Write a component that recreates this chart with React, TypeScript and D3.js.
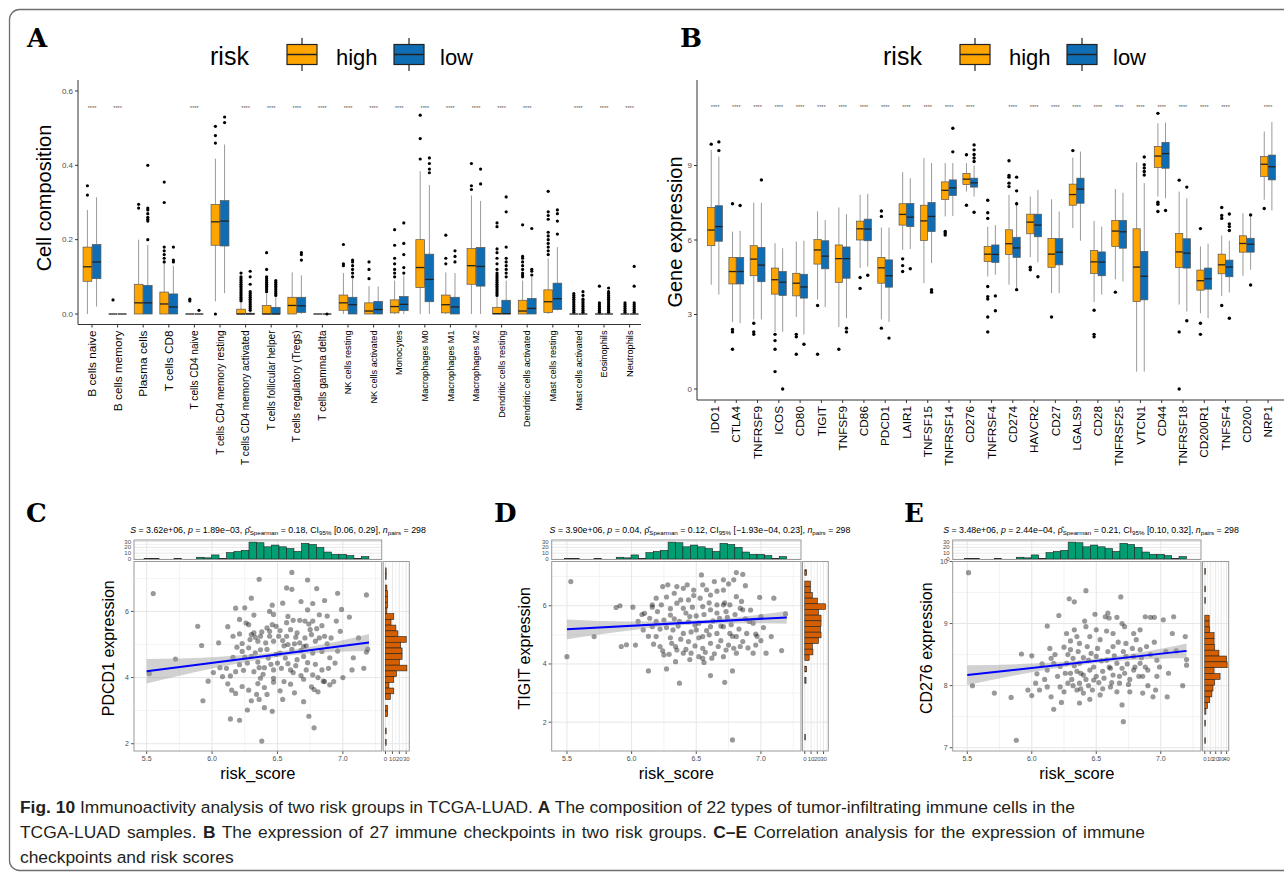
import React from "react";
import * as d3 from "d3";

// ---------- panel A : immune cell composition (CIBERSORT) ----------
const cellTypes = [
  "B cells naive", "B cells memory", "Plasma cells", "T cells CD8", "T cells CD4 naive",
  "T cells CD4 memory resting", "T cells CD4 memory activated", "T cells follicular helper",
  "T cells regulatory (Tregs)", "T cells gamma delta", "NK cells resting", "NK cells activated",
  "Monocytes", "Macrophages M0", "Macrophages M1", "Macrophages M2", "Dendritic cells resting",
  "Dendritic cells activated", "Mast cells resting", "Mast cells activated", "Eosinophils", "Neutrophils",
];
// [lower whisker, q1, median, q3, upper whisker]
const cellHigh = [
  [0, 0.088, 0.127, 0.18, 0.28], [0, 0, 0, 0, 0], [0, 0, 0.03, 0.08, 0.2], [0, 0, 0.027, 0.059, 0.137],
  [0, 0, 0, 0, 0], [0.034, 0.185, 0.248, 0.295, 0.418], [0, 0, 0, 0.013, 0.03], [0, 0, 0, 0.023, 0.055],
  [0, 0, 0.023, 0.045, 0.112], [0, 0, 0, 0, 0], [0, 0.01, 0.03, 0.051, 0.11], [0, 0, 0.008, 0.03, 0.075],
  [0, 0.003, 0.02, 0.038, 0.09], [0, 0.071, 0.125, 0.2, 0.384], [0, 0.003, 0.025, 0.051, 0.112],
  [0, 0.08, 0.13, 0.176, 0.319], [0, 0, 0.001, 0.018, 0.045], [0, 0, 0.008, 0.037, 0.09],
  [0, 0.004, 0.033, 0.065, 0.15], [0, 0, 0, 0, 0], [0, 0, 0, 0, 0], [0, 0, 0, 0, 0],
];
const cellLow = [
  [0.02, 0.095, 0.14, 0.187, 0.314], [0, 0, 0, 0, 0], [0, 0, 0.03, 0.077, 0.186], [0, 0, 0.019, 0.054, 0.13],
  [0, 0, 0, 0, 0], [0.056, 0.183, 0.25, 0.305, 0.456], [0, 0, 0, 0.002, 0.005], [0, 0, 0, 0.018, 0.045],
  [0, 0.004, 0.022, 0.045, 0.104], [0, 0, 0, 0, 0], [0, 0, 0.025, 0.045, 0.094], [0, 0, 0.012, 0.034, 0.074],
  [0, 0.009, 0.026, 0.047, 0.103], [0, 0.033, 0.093, 0.161, 0.347], [0, 0, 0.019, 0.045, 0.11],
  [0, 0.075, 0.128, 0.179, 0.304], [0, 0, 0.001, 0.037, 0.09], [0, 0, 0.015, 0.042, 0.1],
  [0.01, 0.012, 0.041, 0.083, 0.18], [0, 0, 0, 0, 0], [0, 0, 0, 0, 0], [0, 0, 0, 0, 0],
];
const cellHighOut = [
  [0.32, 0.345], [0.038], [0.285, 0.295], [0.14, 0.15, 0.16, 0.17, 0.18, 0.3, 0.355], [0.035, 0.04],
  [0, 0.46, 0.48, 0.505],
  [0.035, 0.04, 0.045, 0.05, 0.055, 0.06, 0.065, 0.07, 0.075, 0.08, 0.085, 0.09, 0.095, 0.1, 0.11],
  [0.06, 0.065, 0.07, 0.075, 0.08, 0.085, 0.09, 0.095, 0.1, 0.12, 0.165],
  [], [], [0.13, 0.135, 0.187], [0.095, 0.12, 0.14], [0.1, 0.11, 0.12, 0.135, 0.15, 0.185, 0.227],
  [0.417, 0.472, 0.535], [0.135, 0.15, 0.212], [0.335, 0.345, 0.405],
  [0.05, 0.055, 0.06, 0.065, 0.07, 0.075, 0.08, 0.085, 0.09, 0.095, 0.1, 0.105, 0.11, 0.12, 0.135, 0.15, 0.165, 0.175, 0.235, 0.245],
  [0.1, 0.105, 0.11, 0.12, 0.13, 0.14, 0.15, 0.155, 0.24],
  [0.16, 0.17, 0.18, 0.19, 0.2, 0.21, 0.22, 0.255, 0.265, 0.275, 0.33],
  [0.005, 0.01, 0.015, 0.02, 0.025, 0.03, 0.035, 0.04, 0.045, 0.05, 0.055],
  [0.005, 0.01, 0.015, 0.02, 0.025, 0.03, 0.075],
  [0.005, 0.01, 0.015, 0.02, 0.025, 0.03],
];
const cellLowOut = [
  [], [], [0.2, 0.25, 0.255, 0.26, 0.27, 0.28, 0.285, 0.4], [0.14, 0.145, 0.18], [0.01], [0.515, 0.53],
  [0.01, 0.015, 0.02, 0.025, 0.03, 0.035, 0.04, 0.045, 0.05, 0.055, 0.06, 0.08, 0.1, 0.115],
  [0.05, 0.055, 0.06, 0.065, 0.07, 0.075, 0.08, 0.085, 0.09],
  [0.145, 0.16, 0.165], [0], [0.1, 0.11, 0.12, 0.13, 0.14, 0.145], [], [0.11, 0.125, 0.16, 0.19, 0.245],
  [0.38, 0.39, 0.405, 0.42], [0.14, 0.155, 0.17], [0.35, 0.39],
  [0.1, 0.11, 0.12, 0.13, 0.14, 0.15, 0.18, 0.275, 0.315], [0.105, 0.115, 0.12, 0.23],
  [0.215, 0.25, 0.27, 0.28],
  [0.005, 0.01, 0.015, 0.02, 0.025, 0.03, 0.035, 0.04, 0.05, 0.06],
  [0.005, 0.01, 0.015, 0.02, 0.025, 0.03, 0.035, 0.04, 0.045, 0.05, 0.055, 0.06, 0.07],
  [0.005, 0.01, 0.015, 0.02, 0.025, 0.03, 0.075, 0.128],
];
const cellNoSig = ["Plasma cells", "T cells CD8", "T cells CD4 memory resting", "Mast cells resting"];
const cellTicks = [0, 0.2, 0.4, 0.6];

// ---------- panel B : immune checkpoint expression ----------
const genes = [
  "IDO1", "CTLA4", "TNFRSF9", "ICOS", "CD80", "TIGIT", "TNFSF9", "CD86", "PDCD1", "LAIR1", "TNFSF15",
  "TNFRSF14", "CD276", "TNFRSF4", "CD274", "HAVCR2", "CD27", "LGALS9", "CD28", "TNFRSF25", "VTCN1",
  "CD44", "TNFRSF18", "CD200R1", "TNFSF4", "CD200", "NRP1",
];
const geneHigh = [
  [4.2, 5.77, 6.4, 7.31, 9.63], [2.7, 4.23, 4.73, 5.3, 6.34], [2.8, 4.56, 5.23, 5.77, 7.5],
  [2.3, 3.82, 4.4, 4.87, 5.87], [2.9, 3.75, 4.26, 4.66, 5.94], [3.6, 5.03, 5.6, 6.02, 7.15],
  [2.5, 4.29, 5.25, 5.8, 7.31], [4.87, 6.0, 6.45, 6.76, 7.82], [2.8, 4.26, 4.88, 5.3, 6.5],
  [5.6, 6.6, 7.03, 7.46, 8.73], [4.26, 5.98, 6.77, 7.4, 9.3], [6.95, 7.63, 8.0, 8.34, 9.1],
  [7.95, 8.23, 8.45, 8.68, 9.1], [4.53, 5.13, 5.43, 5.74, 6.54], [4.2, 5.42, 5.85, 6.41, 7.82],
  [5.31, 6.25, 6.72, 7.04, 7.75], [3.86, 4.9, 5.43, 6.06, 7.64], [6.48, 7.4, 7.83, 8.25, 9.32],
  [3.5, 4.65, 5.12, 5.58, 6.77], [4.42, 5.74, 6.36, 6.79, 8.05], [0.7, 3.52, 4.91, 6.45, 9.12],
  [7.75, 8.92, 9.38, 9.77, 10.7], [3.4, 4.89, 5.52, 6.26, 7.95], [3.05, 3.98, 4.36, 4.79, 5.74],
  [3.75, 4.64, 5.0, 5.43, 6.18], [4.56, 5.51, 5.86, 6.17, 7.08], [7.62, 8.56, 9.05, 9.36, 10.37],
];
const geneLow = [
  [3.8, 5.95, 6.54, 7.38, 9.36], [2.65, 4.23, 4.73, 5.3, 6.37], [2.8, 4.32, 4.99, 5.7, 7.5],
  [2.3, 3.77, 4.3, 4.73, 5.67], [2.2, 3.66, 4.11, 4.62, 5.97], [3.3, 4.84, 5.35, 5.97, 6.81],
  [2.85, 4.46, 5.25, 5.72, 7.04], [4.93, 5.97, 6.44, 6.84, 7.86], [2.7, 4.1, 4.56, 5.2, 6.5],
  [5.64, 6.54, 6.92, 7.47, 8.49], [5.07, 6.34, 6.95, 7.51, 9.1], [6.97, 7.79, 8.1, 8.42, 9.1],
  [7.75, 8.13, 8.3, 8.49, 9.0], [4.6, 5.1, 5.42, 5.8, 6.6], [4.06, 5.3, 5.68, 6.11, 7.55],
  [5.1, 6.13, 6.6, 7.04, 8.02], [3.86, 5.0, 5.51, 6.06, 7.15], [5.97, 7.48, 8.05, 8.49, 9.56],
  [3.8, 4.56, 5.11, 5.52, 6.54], [4.33, 5.67, 6.33, 6.79, 7.9], [0.7, 3.59, 4.54, 5.54, 8.29],
  [7.68, 8.89, 9.48, 9.93, 10.73], [3.12, 4.87, 5.47, 6.05, 7.68], [2.85, 4.02, 4.44, 4.87, 5.85],
  [3.89, 4.52, 4.91, 5.19, 5.97], [4.8, 5.51, 5.83, 6.07, 7.04], [7.19, 8.42, 8.95, 9.42, 10.75],
];
const geneHighOut = [
  [9.86], [7.46, 2.4, 2.3, 1.6], [2.65, 2.3, 2.2], [2.2, 1.95, 1.6, 0.7], [2.2, 2.1, 1.4], [3.36, 1.4],
  [1.6], [4.49, 4.05], [7.17, 6.95, 2.45], [5.24, 4.97, 4.73], [], [6.34, 6.28, 6.2], [9.43, 7.4],
  [7.6, 7.1, 6.87, 4.13, 3.72, 3.62, 2.9, 2.3], [9.19, 8.6, 8.53, 8.29, 8.15], [4.9, 4.8], [2.9], [9.6],
  [3.17, 2.2, 2.1], [3.9], [], [11.1, 7.52, 7.44, 7.15], [8.41, 2.3, 0.0], [6.46, 2.65, 2.2],
  [7.31, 6.99, 6.87, 3.36], [], [7.27],
];
const geneLowOut = [
  [9.6, 9.95], [7.39], [8.42], [0.0], [1.8], [], [2.45, 2.3], [4.58], [2.05], [4.84], [4.0, 3.9],
  [9.55, 10.5], [9.83, 9.63, 9.44, 9.3, 9.16, 7.12], [3.75, 3.15], [8.53, 7.98, 7.46, 4.0], [4.52], [],
  [], [], [], [9.34, 9.03, 8.9, 8.76, 8.62], [7.19], [8.13, 2.75], [], [7.05, 6.65, 6.54, 6.38, 2.85],
  [7.01, 4.19], [],
];
const geneNoSig = ["TNFRSF4", "CD200"];
const geneTicks = [0, 3, 6, 9];

// ---------- panels C-E : risk score vs checkpoint expression ----------
// risk_score marginal histogram (same samples in C, D, E)
const riskBinStart = 5.48;
const riskBinWidth = 0.0573;
const riskCounts = [1, 1, 0, 0, 1, 0, 0, 3, 2, 7, 1, 11, 13, 15, 29, 28, 21, 24, 21, 18, 13, 27, 25, 20, 12, 8, 8, 6, 1, 4];

const pdcd1Points = [
  [5.55, 6.54], [5.52, 4.12], [5.72, 4.56], [5.89, 5.55], [5.92, 4.97], [5.93, 3.3], [5.97, 3.89], [6.01, 4.15],
  [6.06, 4.3], [6.12, 5.54], [6.14, 2.75], [6.21, 2.71], [6.18, 6.1], [6.18, 3.52], [6.21, 5.76], [6.25, 6.11],
  [6.28, 5.6], [6.32, 5.89], [6.36, 6.97], [6.38, 2.08], [6.4, 3.09], [6.46, 2.98], [6.46, 6.19], [6.47, 5.91],
  [6.57, 6.71], [6.61, 6.67], [6.61, 7.18], [6.73, 6.95], [6.74, 2.83], [6.78, 2.48], [6.8, 6.69], [6.77, 6.24],
  [6.86, 6.33], [6.99, 6.06], [7.05, 5.83], [7.18, 6.5], [7.19, 4.86], [7.18, 4.77], [7.16, 4.28], [7.07, 4.23],
  [7.0, 4.0], [6.9, 3.78], [6.85, 3.89], [6.81, 3.57], [6.78, 3.64], [6.7, 3.27], [6.63, 3.54], [6.54, 3.34],
  [6.47, 3.86], [6.35, 3.82], [6.34, 3.49], [6.3, 3.3], [6.28, 3.62], [6.36, 3.34], [6.42, 3.49], [6.27, 3.02],
  [6.23, 3.73], [6.12, 3.81], [6.08, 4.03], [6.11, 4.28], [6.16, 4.61], [6.23, 4.79], [6.21, 5.32], [6.23, 5.03],
  [6.32, 5.35], [6.37, 5.25], [6.42, 5.5], [6.41, 5.05], [6.47, 5.1], [6.51, 5.25], [6.55, 4.96], [6.57, 5.25],
  [6.62, 5.73], [6.67, 5.73], [6.71, 5.71], [6.77, 5.71], [6.84, 5.57], [6.88, 5.86], [6.95, 5.71], [6.94, 4.44],
  [6.91, 5.2], [6.86, 5.25], [6.77, 4.74], [6.71, 5.2], [6.7, 4.94], [6.65, 4.54], [6.6, 4.23], [6.56, 4.59],
  [6.5, 4.44], [6.47, 4.23], [6.43, 4.59], [6.4, 4.3], [6.35, 4.47], [6.32, 4.18], [6.3, 4.64], [6.27, 4.44],
  [6.21, 4.39], [6.18, 4.18], [6.37, 3.98], [6.47, 3.98], [6.55, 3.88], [6.62, 4.15], [6.72, 4.23], [6.77, 4.08],
  [6.84, 4.23], [6.86, 3.88], [6.93, 3.88], [6.57, 5.66], [6.49, 5.55], [6.29, 5.15], [6.16, 5.25], [6.37, 4.84],
  [6.65, 5.35], [6.7, 4.64], [6.52, 4.74], [6.67, 5.05], [6.79, 5.1], [6.84, 4.79], [6.44, 5.25], [6.75, 5.45],
  [6.3, 5.3], [6.33, 5.22], [6.35, 5.1], [6.38, 5.38], [6.44, 5.4], [6.46, 5.6], [6.52, 5.42], [6.54, 5.12],
  [6.58, 5.0], [6.6, 5.45], [6.63, 5.02], [6.64, 5.22], [6.68, 4.82], [6.72, 4.96], [6.74, 5.62], [6.76, 5.3],
  [6.8, 5.48], [6.82, 5.2], [6.88, 5.02], [6.9, 4.6], [6.96, 4.8], [6.98, 5.4], [6.25, 4.62], [6.28, 4.9],
  [6.33, 4.75], [6.36, 4.3], [6.39, 4.1], [6.42, 4.85], [6.45, 4.4], [6.49, 4.7], [6.53, 4.28], [6.58, 4.42],
  [6.61, 4.85], [6.64, 4.36], [6.68, 4.06], [6.73, 4.45], [6.79, 4.4], [6.81, 4.0], [6.89, 4.28], [6.14, 4.05],
  [6.19, 4.92], [6.24, 4.22], [6.15, 3.62], [6.4, 3.7], [6.52, 3.6], [6.6, 3.8], [6.7, 3.95], [6.76, 3.72],
  [6.44, 6.0], [6.54, 6.25], [6.68, 6.3], [6.73, 6.05], [6.3, 6.4], [6.96, 6.55], [6.05, 5.05], [7.12, 5.2],
  [7.08, 4.6], [6.26, 5.65], [6.58, 5.85], [6.82, 5.9],
];
const pdcd1Fit = [[5.5, 4.19], [7.2, 5.06]];
const pdcd1Band = [0.37, 0.17, 0.08, 0.17, 0.26]; // half width at bandAt
const pdcd1HistTop = 7.23;
const pdcd1HistStep = 0.173;
const pdcd1Counts = [1, 1, 0, 2, 3, 3, 3, 2, 12, 8, 15, 18, 30, 22, 24, 24, 20, 31, 16, 12, 5, 12, 7, 0, 3, 3, 0, 0, 1, 0, 1];

const tigitPoints = [
  [5.53, 6.83], [5.5, 4.25], [5.71, 4.94], [5.88, 5.94], [5.91, 6.0], [5.92, 4.6], [5.96, 4.66], [6.01, 5.95],
  [6.03, 4.65], [6.13, 3.76], [6.27, 3.83], [6.37, 3.34], [6.54, 7.06], [6.61, 3.6], [6.72, 3.37], [6.78, 3.76],
  [6.78, 1.39], [6.81, 7.14], [6.86, 7.08], [6.88, 6.69], [6.99, 6.29], [7.1, 6.26], [7.16, 4.46], [7.19, 5.72],
  [7.0, 5.63], [7.08, 4.94], [7.0, 4.8], [7.04, 4.37], [6.94, 4.37], [6.96, 5.03], [6.91, 5.46], [6.84, 5.91],
  [6.79, 6.89], [6.71, 6.89], [6.64, 6.83], [6.55, 6.72], [6.48, 6.54], [6.43, 6.72], [6.35, 6.66], [6.28, 6.72],
  [6.24, 6.66], [6.33, 6.43], [6.19, 6.26], [6.16, 6.03], [6.1, 5.74], [6.05, 5.46], [6.09, 5.17], [6.16, 5.28],
  [6.19, 4.94], [6.17, 4.68], [6.22, 4.6], [6.25, 4.31], [6.29, 4.33], [6.31, 4.71], [6.35, 4.48], [6.4, 5.05],
  [6.44, 4.77], [6.46, 4.37], [6.52, 4.25], [6.55, 4.19], [6.49, 5.34], [6.45, 5.63], [6.4, 5.91], [6.35, 6.09],
  [6.3, 5.68], [6.25, 5.51], [6.23, 6.03], [6.32, 5.17], [6.37, 5.46], [6.55, 5.97], [6.61, 5.86], [6.66, 6.03],
  [6.71, 6.03], [6.73, 5.8], [6.68, 5.57], [6.61, 5.28], [6.66, 5.05], [6.71, 5.28], [6.76, 5.05], [6.81, 4.94],
  [6.86, 4.77], [6.79, 4.54], [6.73, 4.48], [6.67, 4.6], [6.61, 4.71], [6.55, 4.94], [6.5, 5.17], [6.44, 6.2],
  [6.53, 6.26], [6.61, 6.37], [6.71, 6.54], [6.81, 6.31], [6.76, 6.03], [6.19, 5.46], [6.14, 5.57], [6.34, 4.08],
  [6.4, 4.37], [6.55, 4.54], [6.71, 4.25], [6.81, 4.37], [6.89, 5.05], [6.94, 5.4], [6.86, 5.86],
  [6.3, 5.9], [6.33, 5.55], [6.36, 5.3], [6.38, 6.2], [6.42, 5.75], [6.44, 5.45], [6.47, 5.95], [6.5, 5.65],
  [6.52, 5.4], [6.56, 5.7], [6.58, 5.15], [6.6, 6.1], [6.63, 5.48], [6.66, 5.75], [6.69, 5.3], [6.72, 6.1],
  [6.74, 5.6], [6.77, 5.35], [6.8, 5.7], [6.83, 5.2], [6.88, 5.55], [6.92, 5.85], [6.97, 4.95], [6.27, 5.25],
  [6.3, 4.9], [6.34, 4.6], [6.38, 4.85], [6.42, 4.5], [6.46, 5.1], [6.49, 4.62], [6.52, 4.9], [6.57, 4.4],
  [6.6, 5.0], [6.64, 4.35], [6.69, 4.8], [6.75, 4.65], [6.78, 4.95], [6.84, 4.6], [6.9, 4.55], [6.2, 5.8],
  [6.22, 5.2], [6.13, 4.95], [6.08, 5.7], [6.27, 6.3], [6.48, 6.35], [6.58, 6.55], [6.66, 6.5], [6.75, 6.75],
  [6.4, 6.6], [6.56, 4.05], [6.45, 4.15], [6.62, 4.2], [6.96, 4.65], [7.02, 5.25], [6.85, 6.15], [6.24, 4.45],
  [6.16, 5.95],
];
const tigitFit = [[5.5, 5.19], [7.2, 5.6]];
const tigitBand = [0.34, 0.15, 0.07, 0.15, 0.22];
const tigitHistTop = 7.14;
const tigitHistStep = 0.195;
const tigitCounts = [3, 0, 9, 9, 12, 20, 33, 22, 26, 26, 25, 26, 22, 12, 13, 7, 0, 3, 0, 2, 0, 0, 0, 0, 0, 0, 0, 0, 0, 1];

const cd276Points = [
  [5.51, 9.82], [5.54, 8.0], [5.71, 7.88], [5.88, 7.12], [5.84, 7.81], [5.92, 8.51], [5.97, 7.93], [6.0, 8.48],
  [6.0, 7.84], [6.03, 8.04], [6.04, 8.19], [6.12, 8.96], [6.14, 8.6], [6.15, 8.44], [6.15, 7.82], [6.17, 7.62],
  [6.21, 9.13], [6.22, 7.98], [6.23, 7.73], [6.29, 9.4], [6.33, 9.35], [6.33, 8.9], [6.3, 8.58], [6.37, 7.72],
  [6.42, 9.53], [6.41, 9.04], [6.49, 9.15], [6.57, 9.11], [6.59, 9.17], [6.6, 9.09], [6.66, 9.1], [6.69, 9.43],
  [6.7, 7.69], [6.71, 7.42], [6.72, 8.95], [6.79, 8.84], [6.88, 9.11], [6.92, 9.1], [6.95, 9.1], [7.02, 9.06],
  [7.09, 8.84], [7.1, 9.11], [7.12, 8.56], [7.17, 8.0], [7.19, 8.79], [7.2, 8.42], [7.2, 8.33], [7.05, 7.82],
  [6.96, 7.93], [6.94, 7.82], [6.86, 7.88], [6.86, 8.15], [6.76, 7.9], [6.68, 8.04], [6.61, 7.98], [6.53, 7.85],
  [6.47, 7.93], [6.4, 7.88], [6.35, 7.93], [6.28, 8.04], [6.3, 8.2], [6.35, 8.23], [6.4, 8.17], [6.45, 8.25],
  [6.5, 8.15], [6.55, 8.23], [6.61, 8.28], [6.66, 8.36], [6.73, 8.47], [6.79, 8.47], [6.84, 8.58], [6.89, 8.63],
  [6.97, 8.41], [6.9, 8.25], [6.84, 8.36], [6.79, 8.25], [6.72, 8.2], [6.63, 8.17], [6.58, 8.41], [6.5, 8.47],
  [6.44, 8.41], [6.37, 8.36], [6.32, 8.44], [6.27, 8.36], [6.22, 8.31], [6.17, 8.36], [6.12, 8.25], [6.37, 8.68],
  [6.45, 8.79], [6.53, 8.74], [6.63, 8.63], [6.73, 8.68], [6.81, 8.74], [6.35, 8.79], [6.27, 8.84], [6.5, 8.9],
  [6.43, 8.63], [6.63, 8.84], [6.68, 8.15], [6.48, 8.09], [6.37, 8.04], [6.06, 7.93], [6.12, 7.98], [6.97, 8.15],
  [6.26, 8.2], [6.28, 8.5], [6.31, 8.1], [6.33, 8.32], [6.36, 8.55], [6.38, 8.2], [6.4, 8.45], [6.42, 8.1],
  [6.44, 8.0], [6.46, 8.52], [6.48, 8.3], [6.51, 8.6], [6.52, 8.05], [6.54, 8.4], [6.56, 8.12], [6.59, 8.55],
  [6.6, 8.3], [6.62, 8.05], [6.64, 8.48], [6.67, 8.7], [6.7, 8.28], [6.71, 8.55], [6.74, 8.35], [6.76, 8.1],
  [6.78, 8.6], [6.8, 8.3], [6.83, 8.15], [6.85, 8.45], [6.88, 8.3], [6.92, 8.5], [6.95, 8.7], [6.99, 8.3],
  [6.25, 8.62], [6.2, 8.15], [6.18, 8.5], [6.32, 8.0], [6.38, 7.95], [6.55, 7.95], [6.66, 7.9], [6.75, 8.02],
  [6.58, 8.88], [6.42, 8.95], [6.7, 9.0], [6.84, 8.9], [6.3, 8.72], [6.25, 7.9], [6.45, 7.78], [6.9, 8.0],
  [7.04, 8.55], [7.06, 8.2], [6.1, 8.1], [6.08, 8.35],
];
const cd276Fit = [[5.5, 8.17], [7.2, 8.56]];
const cd276Band = [0.16, 0.07, 0.035, 0.08, 0.12];
const cd276HistTop = 9.84;
const cd276HistStep = 0.094;
const cd276Counts = [1, 0, 0, 1, 0, 1, 0, 0, 8, 8, 9, 17, 17, 18, 26, 40, 41, 17, 28, 18, 15, 13, 9, 5, 2, 0, 1, 0, 0, 1];

const bandAt = [5.5, 6.0, 6.5, 7.0, 7.2];
const riskTicks = [5.5, 6.0, 6.5, 7.0];

const HIGH = "#FFA500";
const LOW = "#0F6DB4";
const SANS = "'Liberation Sans', Arial, Helvetica, sans-serif";
const riskGroups = ["high", "low"];

// legend "risk [box] high [box] low"
const Legend = ({ x }) => {
  const key = (kx, fill) => (
    <g>
      <line x1={kx + 15} x2={kx + 15} y1={38} y2={71} stroke="#222" strokeWidth={1.2} />
      <rect x={kx} y={44.5} width={30} height={20} fill={fill} stroke="#222" strokeWidth={1.2} />
      <line x1={kx} x2={kx + 30} y1={54.5} y2={54.5} stroke="#222" strokeWidth={1.5} />
    </g>
  );
  return (
    <g fontFamily={SANS}>
      <text x={x} y={65} fontSize={25}>risk</text>
      {key(x + 77, HIGH)}
      <text x={x + 126} y={65} fontSize={22}>high</text>
      {key(x + 184, LOW)}
      <text x={x + 230} y={65} fontSize={22}>low</text>
    </g>
  );
};

const BoxPanel = ({ cats, high, low, highOut, lowOut, noSig, x, y, left, top, bottom, right, ticks, fmt, starY, labelSize, title, titleX, titleY, dotR }) => {
  const inner = d3.scaleBand().domain(riskGroups).range([0, x.bandwidth()]).paddingInner(0.05).paddingOuter(0.42);
  const stats = { high, low };
  const outs = { high: highOut, low: lowOut };
  const fills = { high: HIGH, low: LOW };
  return (
    <g fontFamily={SANS}>
      <line x1={left} x2={left} y1={top} y2={bottom} stroke="#333" strokeWidth={1} />
      <line x1={left} x2={right} y1={bottom} y2={bottom} stroke="#333" strokeWidth={1} />
      {ticks.map((t) => (
        <g key={t}>
          <line x1={left - 3} x2={left} y1={y(t)} y2={y(t)} stroke="#333" />
          <text x={left - 5} y={y(t)} dy="0.35em" textAnchor="end" fontSize={8} fill="#4d4d4d">{fmt(t)}</text>
        </g>
      ))}
      <text transform={`translate(${titleX},${titleY}) rotate(-90)`} textAnchor="middle" fontSize={20}>{title}</text>
      {cats.map((c, i) => {
        const cx = x(c) + x.bandwidth() / 2;
        return (
          <g key={c}>
            {!noSig.includes(c) && (
              <text x={cx} y={starY} textAnchor="middle" fontSize={5.5} fill="#555">****</text>
            )}
            {riskGroups.map((g) => {
              const [lo, q1, md, q3, hi] = stats[g][i];
              const bx = x(c) + inner(g);
              const bw = inner.bandwidth();
              const mx = bx + bw / 2;
              return (
                <g key={g}>
                  <line x1={mx} x2={mx} y1={y(lo)} y2={y(q1)} stroke="#9a9a9a" strokeWidth={1} />
                  <line x1={mx} x2={mx} y1={y(q3)} y2={y(hi)} stroke="#9a9a9a" strokeWidth={1} />
                  <rect x={bx} y={y(q3)} width={bw} height={Math.max(0, y(q1) - y(q3))} fill={fills[g]} stroke="#555" strokeWidth={0.7} />
                  <line x1={bx} x2={bx + bw} y1={y(md)} y2={y(md)} stroke="#222" strokeWidth={1.3} />
                  {outs[g][i].map((v, k) => (
                    <circle key={k} cx={mx} cy={y(v)} r={dotR} fill="#000" />
                  ))}
                </g>
              );
            })}
            <line x1={cx} x2={cx} y1={bottom} y2={bottom + 3} stroke="#333" />
            <text transform={`translate(${cx},${bottom + 6}) rotate(-90)`} dy="0.35em" textAnchor="end" fontSize={labelSize(i)}>{c}</text>
          </g>
        );
      })}
    </g>
  );
};

const Subtitle = ({ cx, s, p, rho, ci }) => (
  <text x={cx} y={533} textAnchor="middle" fontSize={8.8} fontFamily={SANS}>
    <tspan fontStyle="italic">S</tspan>
    <tspan>{` = ${s}, `}</tspan>
    <tspan fontStyle="italic">p</tspan>
    <tspan>{` = ${p}, \u03C1\u0302`}</tspan>
    <tspan fontSize={6.2} dy={2}>Spearman</tspan>
    <tspan dy={-2}>{` = ${rho}, CI`}</tspan>
    <tspan fontSize={6.2} dy={2}>95%</tspan>
    <tspan dy={-2}>{` ${ci}, `}</tspan>
    <tspan fontStyle="italic">n</tspan>
    <tspan fontSize={6.2} dy={2}>pairs</tspan>
    <tspan dy={-2}>{" = 298"}</tspan>
  </text>
);

const midpoints = (t) => d3.range(t.length + 1).map((i) => (i === 0 ? t[0] - (t[1] - t[0]) / 2 : t[i - 1] + (t[1] - t[0]) / 2));

const Scatter = ({ c }) => {
  const x = d3.scaleLinear().domain(c.xDom).range([c.x0, c.x1]);
  const y = d3.scaleLinear().domain(c.yDom).range([c.y1, c.y0]);
  const ty0 = 540, ty1 = 559.5;
  const hy = d3.scaleLinear().domain([0, 31]).range([559, 541]);
  const rx0 = c.x1 + 1.5;
  const hx = d3.scaleLinear().domain([0, c.rMax]).range([rx0 + 2.3, c.rx1 - 1]);
  const fit = d3.scaleLinear().domain([c.fit[0][0], c.fit[1][0]]).range([c.fit[0][1], c.fit[1][1]]);
  const band = d3.area()
    .x((d) => x(d[0]))
    .y0((d) => y(fit(d[0]) - d[1]))
    .y1((d) => y(fit(d[0]) + d[1]))
    .curve(d3.curveMonotoneX)(bandAt.map((b, i) => [b, c.band[i]]));
  const xMinor = midpoints(riskTicks).filter((v) => x(v) > c.x0 && x(v) < c.x1);
  const yMinor = midpoints(c.yTicks).filter((v) => y(v) > c.y0 && y(v) < c.y1);
  const rMinor = midpoints(c.rTicks).filter((v) => hx(v) > rx0 && hx(v) < c.rx1);
  const grid = "#e6e6e6", gridMinor = "#f3f3f3", border = "#9a9a9a";
  return (
    <g fontFamily={SANS}>
      <Subtitle cx={c.subX} {...c.sub} />
      {/* top marginal histogram */}
      <rect x={c.x0} y={ty0} width={c.x1 - c.x0} height={ty1 - ty0} fill="#fff" />
      {[5, 15, 25].map((v) => <line key={"tm" + v} x1={c.x0} x2={c.x1} y1={hy(v)} y2={hy(v)} stroke={gridMinor} />)}
      {[0, 10, 20, 30].map((v) => (
        <g key={"t" + v}>
          <line x1={c.x0} x2={c.x1} y1={hy(v)} y2={hy(v)} stroke={grid} />
          <text x={c.x0 - 3} y={hy(v)} dy="0.35em" textAnchor="end" fontSize={6} fill="#4d4d4d">{v}</text>
        </g>
      ))}
      {riskTicks.map((v) => <line key={"tv" + v} x1={x(v)} x2={x(v)} y1={ty0} y2={ty1} stroke={grid} />)}
      {riskCounts.map((n, i) => {
        const e0 = riskBinStart + i * riskBinWidth;
        return n > 0 ? (
          <rect key={"h" + i} x={x(e0)} y={hy(n)} width={x(e0 + riskBinWidth) - x(e0)} height={hy(0) - hy(n)}
            fill="#009E73" stroke="#222" strokeWidth={0.6} />
        ) : null;
      })}
      <rect x={c.x0} y={ty0} width={c.x1 - c.x0} height={ty1 - ty0} fill="none" stroke={border} />

      {/* main scatter */}
      {xMinor.map((v) => <line key={"xm" + v} x1={x(v)} x2={x(v)} y1={c.y0} y2={c.y1} stroke={gridMinor} />)}
      {yMinor.map((v) => <line key={"ym" + v} x1={c.x0} x2={c.x1} y1={y(v)} y2={y(v)} stroke={gridMinor} />)}
      {riskTicks.map((v) => (
        <g key={"x" + v}>
          <line x1={x(v)} x2={x(v)} y1={c.y0} y2={c.y1} stroke={grid} />
          <line x1={x(v)} x2={x(v)} y1={c.y1} y2={c.y1 + 3} stroke="#555" />
          <text x={x(v)} y={c.y1 + 9.5} textAnchor="middle" fontSize={7} fill="#4d4d4d">{v.toFixed(1)}</text>
        </g>
      ))}
      {c.yTicks.map((v) => (
        <g key={"y" + v}>
          <line x1={c.x0} x2={c.x1} y1={y(v)} y2={y(v)} stroke={grid} />
          <line x1={c.x0 - 3} x2={c.x0} y1={y(v)} y2={y(v)} stroke="#555" />
          <text x={c.x0 - 5} y={y(v)} dy="0.35em" textAnchor="end" fontSize={7} fill="#4d4d4d">{v}</text>
        </g>
      ))}
      {c.points.map((p, i) => (
        <circle key={i} cx={x(p[0])} cy={y(p[1])} r={2.6} fill="#000" fillOpacity={0.4} />
      ))}
      <path d={band} fill="#999" fillOpacity={0.45} />
      <line x1={x(c.fit[0][0])} x2={x(c.fit[1][0])} y1={y(c.fit[0][1])} y2={y(c.fit[1][1])} stroke="#0000FF" strokeWidth={2} />
      <rect x={c.x0} y={c.y0} width={c.x1 - c.x0} height={c.y1 - c.y0} fill="none" stroke={border} />

      {/* right marginal histogram */}
      {rMinor.map((v) => <line key={"rm" + v} x1={hx(v)} x2={hx(v)} y1={c.y0} y2={c.y1} stroke={gridMinor} />)}
      {c.yTicks.map((v) => <line key={"rh" + v} x1={rx0} x2={c.rx1} y1={y(v)} y2={y(v)} stroke={grid} />)}
      {c.rTicks.map((v) => (
        <g key={"r" + v}>
          <line x1={hx(v)} x2={hx(v)} y1={c.y0} y2={c.y1} stroke={grid} />
          <line x1={hx(v)} x2={hx(v)} y1={c.y1} y2={c.y1 + 3} stroke="#555" />
          <text x={hx(v)} y={c.y1 + 9.5} textAnchor="middle" fontSize={6} fill="#4d4d4d">{v}</text>
        </g>
      ))}
      {c.counts.map((n, i) => {
        const mid = c.histTop - i * c.histStep;
        return n > 0 ? (
          <rect key={"b" + i} x={hx(0)} y={y(mid + c.histStep / 2)} width={hx(n) - hx(0)}
            height={y(mid - c.histStep / 2) - y(mid + c.histStep / 2)} fill="#D55E00" stroke="#222" strokeWidth={0.6} />
        ) : null;
      })}
      <rect x={rx0} y={c.y0} width={c.rx1 - rx0} height={c.y1 - c.y0} fill="none" stroke={border} />

      <text x={(c.x0 + c.x1) / 2} y={779} textAnchor="middle" fontSize={16.5}>risk_score</text>
      <text transform={`translate(${c.titleX},${(c.y0 + c.y1) / 2 - 8}) rotate(-90)`} textAnchor="middle" fontSize={16}>{c.yTitle}</text>
    </g>
  );
};

const scatterC = {
  x0: 134, x1: 381.7, y0: 561.5, y1: 751, rx1: 409.3, xDom: [5.403, 7.297], yDom: [1.78, 7.51],
  yTicks: [2, 4, 6], rTicks: [0, 10, 20, 30], rMax: 33, points: pdcd1Points, fit: pdcd1Fit, band: pdcd1Band,
  histTop: pdcd1HistTop, histStep: pdcd1HistStep, counts: pdcd1Counts, yTitle: "PDCD1 expression", titleX: 114,
  subX: 278, sub: { s: "3.62e+06", p: "1.89e\u221203", rho: "0.18", ci: "[0.06, 0.29]" },
};
const scatterD = {
  x0: 551.7, x1: 801, y0: 561.5, y1: 751, rx1: 828.3, xDom: [5.382, 7.31], yDom: [1.01, 7.52],
  yTicks: [2, 4, 6], rTicks: [0, 10, 20, 30], rMax: 36, points: tigitPoints, fit: tigitFit, band: tigitBand,
  histTop: tigitHistTop, histStep: tigitHistStep, counts: tigitCounts, yTitle: "TIGIT expression", titleX: 530,
  subX: 700, sub: { s: "3.90e+06", p: "0.04", rho: "0.12", ci: "[\u22121.93e\u221204, 0.23]" },
};
const scatterE = {
  x0: 952.7, x1: 1201, y0: 561.5, y1: 751, rx1: 1228.7, xDom: [5.387, 7.312], yDom: [6.947, 10.0],
  yTicks: [7, 8, 9, 10], rTicks: [0, 10, 20, 30, 40], rMax: 42, points: cd276Points, fit: cd276Fit, band: cd276Band,
  histTop: cd276HistTop, histStep: cd276HistStep, counts: cd276Counts, yTitle: "CD276 expression", titleX: 932,
  subX: 1091, sub: { s: "3.48e+06", p: "2.44e\u221204", rho: "0.21", ci: "[0.10, 0.32]" },
};

export default function App() {
  const xA = d3.scaleBand().domain(cellTypes).range([79.2, 642.4]);
  const yA = d3.scaleLinear().domain([0, 0.6]).range([314, 91]);
  const xB = d3.scaleBand().domain(genes).range([704.4, 1278.7]);
  const yB = d3.scaleLinear().domain([0, 9]).range([389, 165.5]);
  const letter = { fontFamily: "'DejaVu Serif', 'Liberation Serif', serif", fontWeight: "bold", fontSize: 26 };

  return (
    <svg width={1284} height={875} viewBox="0 0 1284 875"
      style={{ position: "absolute", left: 0, top: 0, background: "#fff" }}>
      <rect x={9.5} y={9.5} width={1300} height={861} rx={10} fill="none" stroke="#6d6e71" strokeWidth={1.3} />

      <text x={27} y={47} {...letter}>A</text>
      <text x={680} y={47} {...letter}>B</text>
      <text x={26} y={522} {...letter}>C</text>
      <text x={494} y={522} {...letter}>D</text>
      <text x={904} y={522} {...letter}>E</text>

      <Legend x={210} />
      <Legend x={883} />

      <BoxPanel cats={cellTypes} high={cellHigh} low={cellLow} highOut={cellHighOut} lowOut={cellLowOut}
        noSig={cellNoSig} x={xA} y={yA} left={78} right={641} top={80} bottom={324.5} ticks={cellTicks}
        fmt={(t) => t.toFixed(1)} starY={110} labelSize={(i) => (i < 4 ? 11.8 : i < 10 ? 10.1 : 9.2)}
        title="Cell composition" titleX={51} titleY={198} dotR={1.6} />

      <BoxPanel cats={genes} high={geneHigh} low={geneLow} highOut={geneHighOut} lowOut={geneLowOut}
        noSig={geneNoSig} x={xB} y={yB} left={697} right={1284} top={80} bottom={400} ticks={geneTicks}
        fmt={(t) => String(t)} starY={109} labelSize={() => 11.8}
        title="Gene expression" titleX={682} titleY={232} dotR={1.7} />

      <Scatter c={scatterC} />
      <Scatter c={scatterD} />
      <Scatter c={scatterE} />

      <g fontFamily={SANS} fontSize={17.4} fill="#231f20">
        <text x={20} y={813}>
          <tspan fontWeight="bold">Fig. 10</tspan>
          <tspan>{"  Immunoactivity analysis of two risk groups in TCGA-LUAD. "}</tspan>
          <tspan fontWeight="bold">A</tspan>
          <tspan>{" The composition of 22 types of tumor-infiltrating immune cells in the"}</tspan>
        </text>
        <text x={20} y={838} wordSpacing={1.6}>
          <tspan>{"TCGA-LUAD samples. "}</tspan>
          <tspan fontWeight="bold">B</tspan>
          <tspan>{" The expression of 27 immune checkpoints in two risk groups. "}</tspan>
          <tspan fontWeight="bold">C–E</tspan>
          <tspan>{" Correlation analysis for the expression of immune"}</tspan>
        </text>
        <text x={20} y={863}>checkpoints and risk scores</text>
      </g>
    </svg>
  );
}
